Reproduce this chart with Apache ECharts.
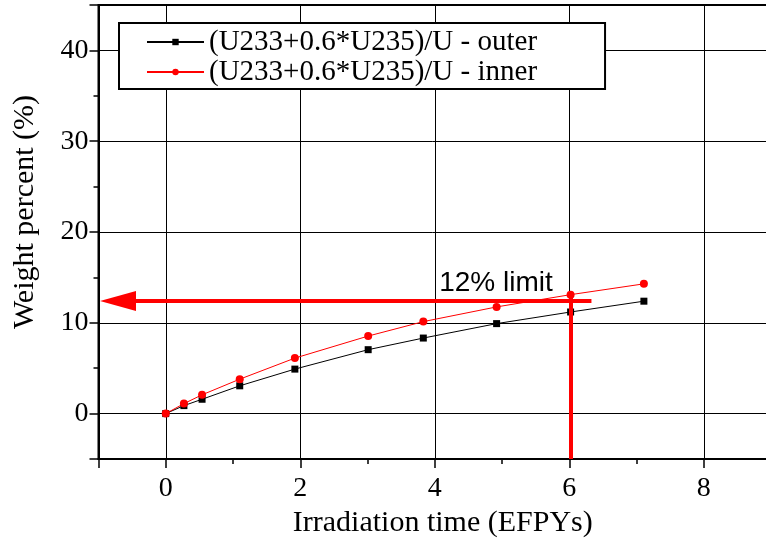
<!DOCTYPE html>
<html>
<head>
<meta charset="utf-8">
<script src="https://cdn.jsdelivr.net/npm/echarts@6/dist/echarts.min.js"></script>
<style>html,body{margin:0;padding:0;background:#fff}#c{width:766px;height:546px}</style>
</head>
<body>
<div id="c"></div>
<script>
// ---- data ----
const seriesNames = ['(U233+0.6*U235)/U - outer', '(U233+0.6*U235)/U - inner'];
const timeX   = [0, 0.27, 0.54, 1.10, 1.92, 3.01, 3.83, 4.92, 6.02, 7.11];
const outerY  = [0, 0.88, 1.58, 3.06, 4.90, 7.04, 8.32, 9.91, 11.19, 12.38];
const innerY  = [0, 1.10, 2.07, 3.79, 6.11, 8.54, 10.13, 11.75, 13.10, 14.29];
const xTickLabels = [0, 2, 4, 6, 8];
const yTickLabels = [0, 10, 20, 30, 40];
const xRange = [-1, 9];
const yRange = [-5, 45];
// annotation: 12% limit arrow
const limitLevel = 12.4;
const limitLineStartX = 6.33;
const limitArrowEndX = -0.71;
const limitTimeX = 6.02;
const limitTimeTopY = 12.8;
const limitLabel = '12% limit';
const limitLabelPos = [4.91, 14.35];

const serif = '"Liberation Serif", "Times New Roman", Times, serif';
const sans = '"Liberation Sans", Arial, sans-serif';
const chart = echarts.init(document.getElementById('c'));

const majorX = {
  type: 'value', min: xRange[0], max: xRange[1], position: 'bottom',
  name: 'Irradiation time (EFPYs)', nameLocation: 'middle', nameGap: 45,
  nameTextStyle: {fontFamily: serif, fontSize: 30, color: '#000', padding: [0, 0, 0, 16]},
  axisLine: {show: true, onZero: false, lineStyle: {color: '#000', width: 2}},
  axisTick: {show: true, length: 9, lineStyle: {color: '#000', width: 1.5}},
  axisLabel: {margin: 16, fontFamily: serif, fontSize: 28, color: '#000',
    formatter: v => xTickLabels.includes(v) ? String(v) : ''},
  splitLine: {show: true, lineStyle: {color: '#000', width: 1}}
};
const minorX = {
  type: 'value', min: xRange[0], max: xRange[1], interval: 2, position: 'bottom',
  axisLine: {show: false, onZero: false},
  axisTick: {show: true, length: 5, lineStyle: {color: '#000', width: 1.5}},
  axisLabel: {show: false}, splitLine: {show: false}
};
const majorY = {
  type: 'value', min: yRange[0], max: yRange[1], position: 'left',
  name: 'Weight percent (%)', nameLocation: 'middle', nameGap: 58,
  nameTextStyle: {fontFamily: serif, fontSize: 30, color: '#000', padding: [0, 0, 0, 40]},
  axisLine: {show: true, onZero: false, lineStyle: {color: '#000', width: 2}},
  axisTick: {show: true, length: 9, lineStyle: {color: '#000', width: 1.5}},
  axisLabel: {margin: 10, fontFamily: serif, fontSize: 28, color: '#000',
    formatter: v => yTickLabels.includes(v) ? String(v) : ''},
  splitLine: {show: true, lineStyle: {color: '#000', width: 1}}
};
const minorY = {
  type: 'value', min: yRange[0], max: yRange[1], interval: 10, position: 'left',
  axisLine: {show: false, onZero: false},
  axisTick: {show: true, length: 5, lineStyle: {color: '#000', width: 1.5}},
  axisLabel: {show: false}, splitLine: {show: false}
};

chart.setOption({
  animation: false,
  backgroundColor: '#fff',
  grid: {left: 98.5, right: -5, top: 5, bottom: 87, outerBoundsMode: 'none', containLabel: false,
         show: true, borderColor: '#000', borderWidth: 2, backgroundColor: 'transparent'},
  xAxis: [majorX, minorX],
  yAxis: [majorY, minorY],
  legend: {
    data: seriesNames, orient: 'vertical', left: 119, top: 23,
    backgroundColor: '#fff', borderColor: '#000', borderWidth: 2,
    padding: [4, 68, 2, 27], itemWidth: 57, itemHeight: 8, itemGap: 0,
    textStyle: {fontFamily: serif, fontSize: 29, color: '#000', lineHeight: 30},
    selectedMode: false
  },
  series: [
    {name: seriesNames[0], type: 'line', xAxisIndex: 0, yAxisIndex: 0,
     data: timeX.map((x, i) => [x, outerY[i]]),
     symbol: 'rect', symbolSize: 7, itemStyle: {color: '#000'},
     lineStyle: {color: '#000', width: 1}},
    {name: seriesNames[1], type: 'line', xAxisIndex: 0, yAxisIndex: 0,
     data: timeX.map((x, i) => [x, innerY[i]]),
     symbol: 'circle', symbolSize: 8, itemStyle: {color: '#ff0000'},
     lineStyle: {color: '#ff0000', width: 1}},
    {type: 'line', xAxisIndex: 0, yAxisIndex: 0, data: [], silent: true,
     markLine: {
       silent: true, animation: false,
       symbol: 'none',
       label: {show: false},
       lineStyle: {color: '#ff0000', width: 4, type: 'solid'},
       emphasis: {disabled: true},
       data: [
         [{coord: [limitLineStartX, limitLevel], symbol: 'none'},
          {coord: [limitArrowEndX, limitLevel], symbol: 'triangle', symbolSize: [20, 36]}],
         [{coord: [limitTimeX, limitTimeTopY], symbol: 'none'},
          {coord: [limitTimeX, yRange[0]], symbol: 'none'}]
       ]
     },
     markPoint: {
       silent: true, animation: false,
       symbol: 'circle', symbolSize: 0,
       itemStyle: {color: 'rgba(0,0,0,0)'},
       label: {show: true, position: 'inside', formatter: '{b}',
         fontFamily: sans, fontSize: 28, color: '#000'},
       data: [{name: limitLabel, coord: limitLabelPos}]
     }}
  ]
});
</script>
</body>
</html>
